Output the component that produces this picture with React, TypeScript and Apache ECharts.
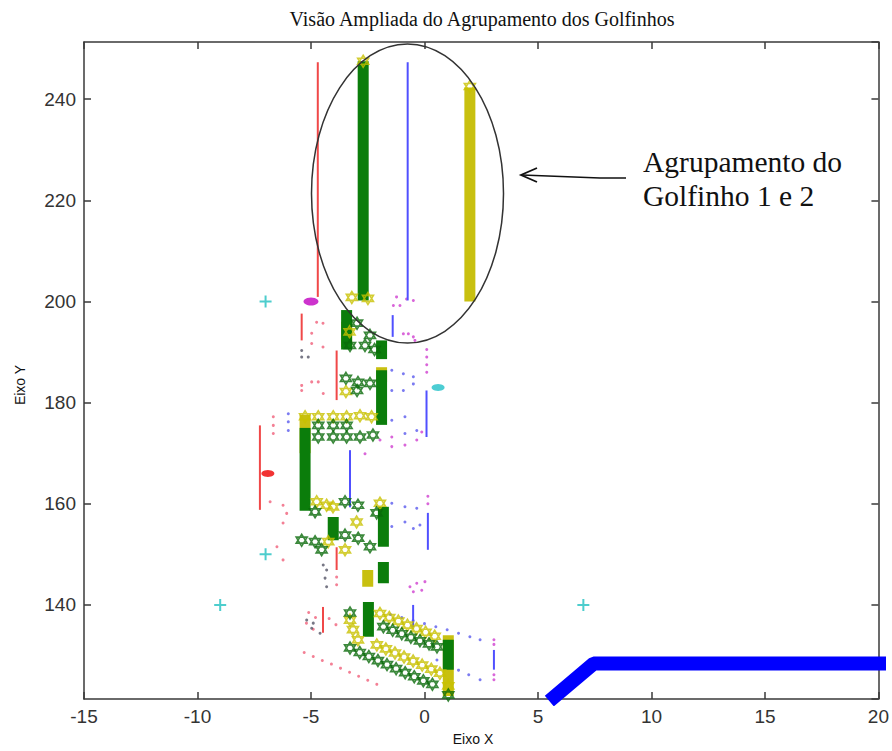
import React, { useEffect, useRef } from 'react';
import * as echarts from 'echarts';

// ---- data ----
const greenBars: number[][][] = [
  [[-2.7, 200.2], [-2.7, 247.5]],
  [[-3.43, 190.5], [-3.43, 198.3]],
  [[-1.89, 188.6], [-1.89, 192.3]],
  [[-1.89, 175.6], [-1.89, 186.4]],
  [[-5.26, 158.6], [-5.26, 175.0]],
  [[-4.02, 152.8], [-4.02, 157.4]],
  [[-1.81, 151.5], [-1.81, 159.4]],
  [[-1.81, 144.3], [-1.81, 148.5]],
  [[-2.47, 133.7], [-2.47, 140.6]],
  [[1.05, 127.2], [1.05, 133.1]],
];
const yellowBars: number[][][] = [
  [[2.0, 200.0], [2.0, 242.3]],
  [[-2.5, 143.6], [-2.5, 146.9]],
  [[1.05, 122.0], [1.05, 134.0]],
  [[-5.26, 170.0], [-5.26, 177.6]],
  [[-3.43, 191.0], [-3.43, 196.0]],
  [[-1.89, 184.0], [-1.89, 187.0]],
];
const redLines: number[][][] = [
  [[-4.7, 200.9], [-4.7, 247.3]],
  [[-7.25, 158.8], [-7.25, 175.5]],
  [[-5.41, 192.3], [-5.41, 197.6]],
  [[-3.87, 180.5], [-3.87, 190.3]],
  [[-3.87, 146.9], [-3.87, 151.4]],
  [[-4.47, 134.5], [-4.47, 139.6]],
];
const blueLines: number[][][] = [
  [[-0.74, 200.2], [-0.74, 247.3]],
  [[-3.28, 159.3], [-3.28, 170.6]],
  [[-1.4, 193.0], [-1.4, 197.3]],
  [[0.09, 173.2], [0.09, 182.4]],
  [[0.15, 150.9], [0.15, 158.2]],
  [[-0.5, 135.6], [-0.5, 140.0]],
  [[3.06, 127.2], [3.06, 131.1]],
];
const blueBand: number[][] = [[5.5, 121.0], [7.45, 128.4], [20.4, 128.4]];

const cyanPlus: number[][] = [[-7, 200], [-7, 150], [-9, 140], [7, 140]];
const magentaBlob: number[][] = [[-5.0, 200]];
const redBlob: number[][] = [[-6.9, 166]];
const cyanBlob: number[][] = [[0.6, 183]];

const greenStars: number[][] = [
  [-3.46, 184.8], [-2.93, 184.0], [-2.4, 183.8], [-2.97, 182.4],
  [-2.97, 195.7], [-2.4, 193.3], [-2.62, 191.3], [-3.28, 191.3], [-2.2, 190.5],
  [-4.68, 175.5], [-4.02, 175.5], [-3.43, 175.5],
  [-4.68, 173.2], [-4.02, 173.2], [-3.43, 173.2], [-2.84, 173.2], [-2.27, 173.6],
  [-3.5, 160.4], [-2.93, 159.7], [-4.82, 158.4], [-2.11, 158.2], [-2.92, 153.2],
  [-2.4, 151.5], [-5.41, 152.8], [-4.82, 152.5], [-4.53, 150.9], [-3.5, 153.8],
  [-1.81, 135.7], [-1.4, 135.0], [-1.0, 134.3], [-0.6, 133.6], [-0.2, 132.9], [0.2, 132.3], [0.55, 131.7],
  [-3.28, 131.5], [-2.85, 130.6], [-2.45, 129.8], [-2.05, 129.0], [-1.65, 128.2], [-1.25, 127.4],
  [-0.85, 126.6], [-0.45, 125.8], [-0.05, 125.0], [0.35, 124.3],
  [-3.28, 138.4], [1.05, 122.2],
];
const yellowStars: number[][] = [
  [-2.7, 247.5], [2.0, 242.5],
  [-3.2, 200.8], [-2.49, 200.6], [-3.46, 182.2], [-3.3, 194.0],
  [-5.26, 177.2], [-4.68, 177.2], [-4.02, 177.2], [-3.43, 177.2], [-2.84, 177.4], [-2.33, 177.2],
  [-4.75, 160.4], [-4.31, 159.7], [-4.03, 159.4], [-1.96, 160.1], [-2.99, 156.4], [-3.5, 150.9], [-4.24, 152.5],
  [-1.96, 138.3], [-1.55, 137.5], [-1.15, 136.8], [-0.75, 136.0], [-0.35, 135.3], [0.05, 134.6], [0.45, 133.8],
  [-2.1, 132.1], [-1.7, 131.3], [-1.3, 130.5], [-0.9, 129.7], [-0.5, 128.9], [-0.1, 128.1], [0.3, 127.3], [0.68, 126.5],
  [-3.28, 137.0], [-3.15, 135.1], [-2.93, 133.1], [1.05, 124.0],
];

const redDots: number[][] = [
  [-5.3, 130.6], [-4.9, 129.8], [-4.5, 129.0], [-4.1, 128.3], [-3.7, 127.5], [-3.3, 126.7], [-2.9, 125.9], [-2.5, 125.1], [-2.1, 124.3],
  [-5.1, 138.5], [-4.8, 137.5], [-5.2, 136.4], [-4.9, 135.2], [-4.2, 137.3], [-3.9, 136.1],
  [-6.8, 160.4], [-6.23, 159.7], [-6.07, 158.1], [-6.23, 156.2], [-6.5, 151.5], [-6.23, 148.9],
  [-4.47, 195.7], [-4.75, 195.9], [-4.97, 193.7], [-4.97, 191.7], [-4.47, 191.0],
  [-5.41, 183.4], [-4.97, 184.1], [-4.68, 184.1], [-5.41, 182.4], [-4.46, 181.8],
  [-6.66, 177.2], [-6.66, 175.5], [-6.66, 173.9], [-3.87, 145.5], [-3.87, 144.0],
];
const blueDots: number[][] = [
  [-1.44, 186.4], [-0.93, 185.7], [-0.49, 185.1], [-1.44, 182.4], [-0.93, 182.4], [-0.49, 183.7],
  [-0.86, 177.2], [-1.44, 176.5], [-0.86, 173.9], [-0.34, 174.5],
  [-1.44, 160.1], [-0.86, 159.4], [-1.44, 155.5], [-0.86, 156.4], [-0.49, 155.1], [-0.2, 155.8], [-0.34, 159.1],
  [-1.5, 138.1], [-1.0, 137.5], [-0.5, 136.9], [0.0, 136.3], [0.5, 135.7], [1.0, 135.1], [1.5, 134.4], [2.0, 133.7], [2.45, 133.1],
  [0.55, 129.1], [1.0, 128.2], [1.5, 127.1], [1.95, 126.2], [2.45, 125.2],
  [-6.0, 177.8], [-6.0, 176.2], [-6.0, 174.5],
];
const magentaDots: number[][] = [
  [-1.23, 200.9], [-0.79, 200.5], [-0.49, 200.2], [-1.37, 199.2], [-1.08, 199.2],
  [-0.93, 193.6], [-0.71, 193.6], [-0.49, 193.0], [-0.42, 192.3],
  [0.1, 190.5], [0.1, 189.0], [0.1, 187.5], [0.1, 186.0],
  [-1.44, 173.2], [-0.86, 171.6], [-1.44, 171.3], [-1.96, 172.6], [-2.62, 169.9], [-0.34, 172.6], [-0.12, 174.2],
  [-0.64, 143.6], [-0.34, 144.3], [0.02, 144.6], [-0.49, 142.6], [-0.12, 142.9],
  [3.06, 133.1], [3.06, 132.2], [3.06, 126.2], [3.06, 125.2], [0.15, 160.0], [0.15, 161.5],
];
const grayDots: number[][] = [
  [-5.19, 137.0], [-4.97, 135.4], [-4.6, 134.4], [-4.9, 136.4],
  [-4.46, 147.9], [-4.31, 146.9], [-4.38, 145.3], [-4.31, 143.6],
  [-5.41, 190.3], [-5.41, 189.0], [-5.12, 189.0],
];

const X_RANGE = [-15, 20];
const Y_RANGE = [121.4, 251.3];

const plusPath = 'path://M5,0h2v5h5v2h-5v5h-2v-5h-5v-2h5z';
const hexPath = 'path://M10,0L18.66,15L1.34,15ZM10,20L1.34,5L18.66,5Z';

export default function App() {
  const ref = useRef<HTMLDivElement>(null);
  useEffect(() => {
    if (!ref.current) return;
    const chart = echarts.init(ref.current, undefined, { renderer: 'svg' });

    const seg = (data: number[][], color: string, width: number, z: number) => ({
      type: 'line', data, showSymbol: false, symbol: 'none', silent: true, z,
      lineStyle: { color, width, cap: 'butt' },
    });
    const dots = (data: number[][], color: string) => ({
      type: 'scatter', data, symbol: 'circle', symbolSize: 3, silent: true, z: 3,
      itemStyle: { color },
    });
    const stars = (data: number[][], color: string, z: number) => ({
      type: 'scatter', data, symbol: hexPath, symbolSize: [11, 12], silent: true, z,
      itemStyle: { color: 'rgba(0,0,0,0)', borderColor: color, borderWidth: 1.6 },
    });

    const axisCommon = {
      type: 'value',
      axisLine: { show: true, onZero: false, lineStyle: { color: '#3a3a3a', width: 1.5 } },
      axisTick: { show: true, inside: true, length: 7, lineStyle: { color: '#3a3a3a', width: 1.5 } },
      splitLine: { show: false },
    };
    const labelStyle = { color: '#333', fontSize: 19, fontFamily: 'Liberation Sans, Arial, sans-serif', margin: 8 };

    const series: any[] = [
      dots(redDots, '#f0607a'),
      dots(blueDots, '#5a5aee'),
      dots(magentaDots, '#d040d0'),
      dots(grayDots, '#555566'),
      ...redLines.map((s) => seg(s, '#f04848', 2, 4)),
      ...blueLines.map((s) => seg(s, '#5050ff', 2, 4)),
      ...yellowBars.map((s) => seg(s, '#c8c010', 11, 5)),
      ...greenBars.map((s) => seg(s, '#0b7d0b', 11, 6)),
      seg(blueBand, '#0000ff', 14, 6),
      stars(yellowStars, '#c8c000', 7),
      stars(greenStars, '#0a6a0a', 8),
      {
        type: 'scatter', data: cyanPlus, symbol: plusPath, symbolSize: 12, silent: true, z: 9,
        itemStyle: { color: '#20c0c0' },
      },
      { type: 'scatter', data: magentaBlob, symbol: 'circle', symbolSize: [15, 8], silent: true, z: 9, itemStyle: { color: '#c000c0' } },
      { type: 'scatter', data: redBlob, symbol: 'circle', symbolSize: [13, 7], silent: true, z: 9, itemStyle: { color: '#ee0000' } },
      { type: 'scatter', data: cyanBlob, symbol: 'circle', symbolSize: [13, 7], silent: true, z: 9, itemStyle: { color: '#20c0c8' } },
    ];

    chart.setOption({
      animation: false,
      backgroundColor: '#ffffff',
      grid: { left: 84, right: 12, top: 42, bottom: 52, containLabel: false },
      xAxis: [
        { ...axisCommon, position: 'bottom', min: X_RANGE[0], max: X_RANGE[1], interval: 5,
          axisLabel: { ...labelStyle } },
        { ...axisCommon, position: 'top', min: X_RANGE[0], max: X_RANGE[1], interval: 5,
          axisLabel: { show: false } },
      ],
      yAxis: [
        { ...axisCommon, position: 'left', min: Y_RANGE[0], max: Y_RANGE[1], splitNumber: 7,
          minInterval: 20, maxInterval: 20,
          axisLabel: { ...labelStyle, showMinLabel: false, showMaxLabel: false } },
        { ...axisCommon, position: 'right', min: Y_RANGE[0], max: Y_RANGE[1], splitNumber: 7,
          minInterval: 20, maxInterval: 20,
          axisLabel: { show: false } },
      ],
      series,
      graphic: [
        {
          type: 'text', x: 482, y: 19, z: 100,
          style: { text: 'Visão Ampliada do Agrupamento dos Golfinhos', align: 'center', verticalAlign: 'middle',
            fontSize: 20, fontFamily: 'Liberation Serif, Times New Roman, serif', fill: '#111' },
        },
        {
          type: 'text', x: 473, y: 739, z: 100,
          style: { text: 'Eixo X', align: 'center', verticalAlign: 'middle',
            fontSize: 14, fontFamily: 'Liberation Sans, Arial, sans-serif', fill: '#111' },
        },
        {
          type: 'text', x: 20, y: 385, rotation: Math.PI / 2, z: 100,
          style: { text: 'Eixo Y', align: 'center', verticalAlign: 'middle',
            fontSize: 14, fontFamily: 'Liberation Sans, Arial, sans-serif', fill: '#111' },
        },
        {
          type: 'ellipse', z: 100, silent: true,
          shape: { cx: 407.5, cy: 193.5, rx: 96, ry: 149.5 },
          style: { fill: 'none', stroke: '#333', lineWidth: 1.5 },
        },
        {
          type: 'polyline', z: 100, silent: true,
          shape: { points: [[626, 178], [600, 178], [522, 175]] },
          style: { fill: 'none', stroke: '#111', lineWidth: 1.5 },
        },
        {
          type: 'polyline', z: 100, silent: true,
          shape: { points: [[537, 168], [521, 175], [537, 182]] },
          style: { fill: 'none', stroke: '#111', lineWidth: 1.8 },
        },
        {
          type: 'text', x: 643, y: 162, z: 100,
          style: { text: 'Agrupamento do', align: 'left', verticalAlign: 'middle',
            fontSize: 29.5, fontFamily: 'Liberation Serif, Times New Roman, serif', fill: '#111' },
        },
        {
          type: 'text', x: 643, y: 196, z: 100,
          style: { text: 'Golfinho 1 e 2', align: 'left', verticalAlign: 'middle',
            fontSize: 29.5, fontFamily: 'Liberation Serif, Times New Roman, serif', fill: '#111' },
        },
      ],
    });
    return () => chart.dispose();
  }, []);
  return <div ref={ref} style={{ width: 892, height: 751, position: 'absolute', left: 0, top: 0 }} />;
}
